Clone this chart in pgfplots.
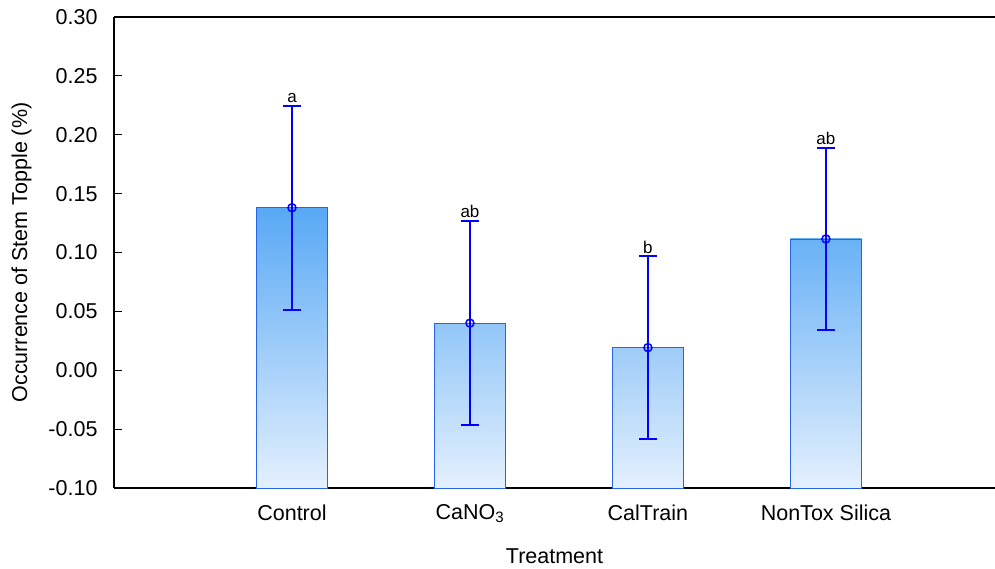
\documentclass[border=0pt]{standalone}
\usepackage{fontspec}
\setmainfont{Liberation Sans}
\usepackage{pgfplots}
\pgfplotsset{compat=1.18}

\definecolor{barlight}{RGB}{228,240,253}
\definecolor{bcA}{RGB}{88,168,245}
\definecolor{bcB}{RGB}{146,198,248}
\definecolor{bcC}{RGB}{159,204,249}
\definecolor{bcD}{RGB}{105,177,246}
\definecolor{ebblue}{RGB}{0,0,255}
\definecolor{edgeblue}{RGB}{40,100,230}

\begin{document}
\begin{tikzpicture}
\begin{axis}[
  name=ax,
  scale only axis,
  width=881pt, height=471pt,
  xmin=-1, xmax=3.95,
  ymin=0, ymax=0.4,
  y filter/.expression={y+0.1},
  axis x line=box, axis y line=left,
  every outer x axis line/.append style={-},
  every outer y axis line/.append style={-},
  axis line style={line width=1.2pt, black},
  tick align=inside,
  major tick length=8pt,
  xtick={0,1,2,3},
  xtick pos=bottom,
  xticklabels={Control, CaNO\textsubscript{3}, CalTrain, NonTox Silica},
  xtick style={/pgfplots/major tick length=4pt, line width=1.2pt, black},
  ytick={0,0.05,0.1,0.15,0.2,0.25,0.3,0.35,0.4},
  yticklabels={-0.10,-0.05,0.00,0.05,0.10,0.15,0.20,0.25,0.30},
  ytick style={line width=1pt, black},
  tick label style={font=\fontsize{21.5}{21.5}\selectfont},
  yticklabel style={xshift=-13pt},
  xticklabel style={yshift=-13pt},
  xlabel={Treatment},
  ylabel={Occurrence of Stem Topple (\%)},
  label style={font=\fontsize{21.5}{21.5}\selectfont},
  xlabel style={yshift=-19pt},
  ylabel style={yshift=10pt},
  bar width=0.4,
  clip=false,
]
\addplot[ybar, bar shift=0pt, draw=edgeblue, line width=0.8pt, top color=bcA, bottom color=barlight] coordinates {(0,0.138)};
\addplot[ybar, bar shift=0pt, draw=edgeblue, line width=0.8pt, top color=bcB, bottom color=barlight] coordinates {(1,0.040)};
\addplot[ybar, bar shift=0pt, draw=edgeblue, line width=0.8pt, top color=bcC, bottom color=barlight] coordinates {(2,0.019)};
\addplot[ybar, bar shift=0pt, draw=edgeblue, line width=0.8pt, top color=bcD, bottom color=barlight] coordinates {(3,0.1115)};

\addplot[only marks, ebblue, mark=o, mark size=4pt, mark options={line width=1.5pt, ebblue},
  error bars/.cd, y dir=both, y explicit,
  error bar style={line width=1.5pt, ebblue},
  error mark options={rotate=90, mark size=9pt, line width=1.8pt, ebblue}]
  coordinates {
  (0,0.138) +- (0,0.0865)
  (1,0.040) +- (0,0.0865)
  (2,0.0192) +- (0,0.0775)
  (3,0.1115) +- (0,0.0772)
  };

\addplot[only marks, mark=none, nodes near coords, point meta=explicit symbolic,
  nodes near coords style={anchor=south, inner sep=3pt, font=\fontsize{17}{17}\selectfont, black}]
  table[meta=lab] {
  x y lab
  0 0.2245 a
  1 0.1265 ab
  2 0.0967 b
  3 0.1887 ab
  };
\end{axis}
\pgfresetboundingbox
\path[use as bounding box] ([xshift=-114pt,yshift=-81pt]ax.south west) rectangle ([yshift=17pt]ax.north east);
\end{tikzpicture}
\end{document}
